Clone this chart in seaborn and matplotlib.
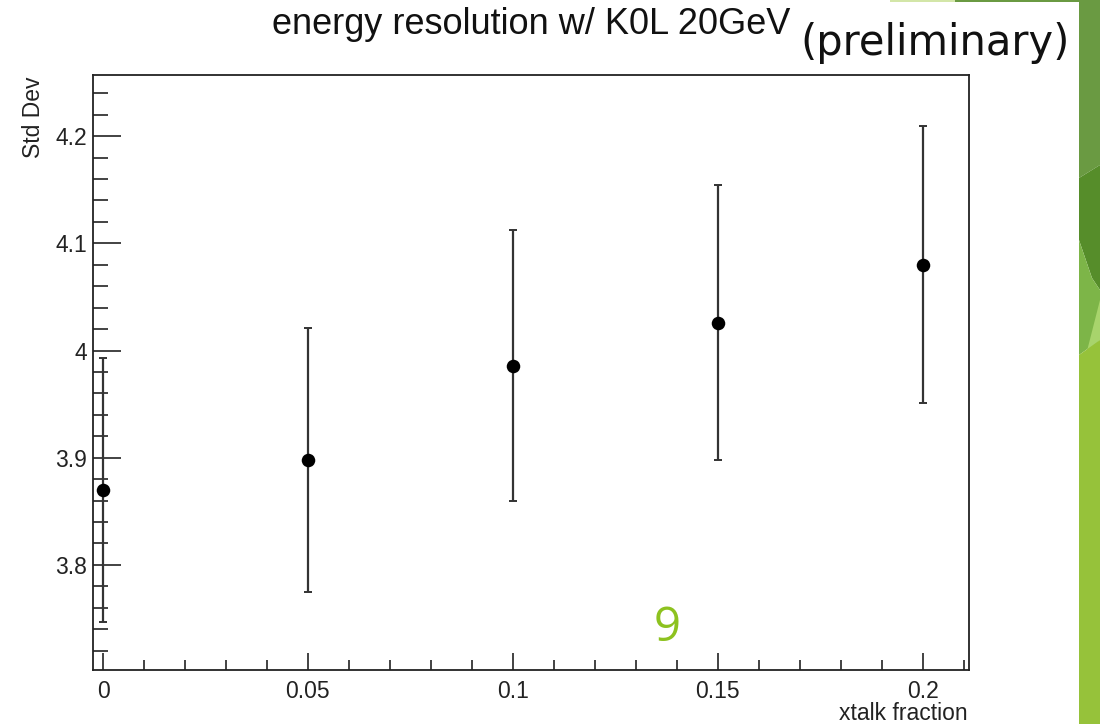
import numpy as np
import pandas as pd
import matplotlib
matplotlib.use("Agg")
import matplotlib.pyplot as plt
from matplotlib.patches import Polygon
from matplotlib.ticker import MultipleLocator, FuncFormatter
import seaborn as sns

# ---- data ----
xtalk_fraction = [0.0, 0.05, 0.10, 0.15, 0.20]
std_dev = [3.870, 3.898, 3.986, 4.026, 4.080]
std_dev_err = [0.123, 0.123, 0.126, 0.128, 0.129]

title = "energy resolution w/ K0L 20GeV"
x_label = "xtalk fraction"
y_label = "Std Dev"

sns.set_theme(style="ticks")
plt.rcParams['font.family'] = ['Liberation Sans', 'DejaVu Sans']

df = pd.DataFrame({"x": xtalk_fraction, "y": std_dev, "err": std_dev_err})

fig = plt.figure(figsize=(11, 7.24), dpi=100)
fig.patch.set_facecolor("white")

W, H = 1100, 724
def fx(px):
    return px / W
def fy(py):
    return 1 - py / H

ax = fig.add_axes([fx(93), fy(670), fx(969) - fx(93), fy(75) - fy(670)])

ax.errorbar(df["x"], df["y"], yerr=df["err"], fmt="none", ecolor="#333333",
            elinewidth=1.6, capsize=2.9, capthick=1.4, zorder=2)
sns.scatterplot(data=df, x="x", y="y", ax=ax, color="black", s=95,
                marker="o", edgecolor="black", linewidth=0, zorder=3)

ax.set_xlim(-0.00244, 0.2113)
ax.set_ylim(3.702, 4.257)

ax.xaxis.set_major_locator(MultipleLocator(0.05))
ax.xaxis.set_minor_locator(MultipleLocator(0.01))
ax.yaxis.set_major_locator(MultipleLocator(0.1))
ax.yaxis.set_minor_locator(MultipleLocator(0.02))

def fmt(v, pos):
    s = f"{v:.2f}".rstrip("0").rstrip(".")
    if s == "-0":
        s = "0"
    return s
ax.xaxis.set_major_formatter(FuncFormatter(fmt))
ax.yaxis.set_major_formatter(FuncFormatter(fmt))

ax.tick_params(axis="both", which="both", direction="in", width=1.2,
               labelsize=16.5, colors="#222222", top=False, right=False)
ax.tick_params(axis="y", which="major", length=20, pad=4)
ax.tick_params(axis="y", which="minor", length=10.5)
ax.tick_params(axis="x", which="major", length=12.5, pad=7)
ax.tick_params(axis="x", which="minor", length=7.2)
for sp in ax.spines.values():
    sp.set_linewidth(1.3)
    sp.set_color("#222222")
    sp.set_visible(True)

ax.set_xlabel("")
ax.set_ylabel("")
fig.text(fx(968), fy(713), x_label, ha="right", va="center", fontsize=16.5, color="#222222")
fig.text(fx(33), fy(77), y_label, ha="center", va="top", rotation=90, fontsize=16.5, color="#222222")

fig.text(fx(272), fy(34), title, ha="left", va="baseline", fontsize=26, color="#111111")
fig.text(fx(800), fy(55), "(preliminary)", ha="left", va="baseline", fontsize=30,
         family=["DejaVu Sans"], color="#111111")
fig.text(fx(667), fy(641), "9", ha="center", va="baseline", fontsize=34,
         family=["Open Sans", "DejaVu Sans"], color="#8dc21f")

# slide decoration on the right
def poly(pts, color):
    fig.patches.append(Polygon([(fx(a), fy(b)) for a, b in pts], closed=True,
                               transform=fig.transFigure, facecolor=color,
                               edgecolor="none", zorder=0))

poly([(1079, 0), (1100, 0), (1100, 165), (1079, 178)], "#6a9a42")
poly([(1079, 178), (1100, 165), (1100, 290), (1092, 278), (1079, 240)], "#568d2a")
poly([(1079, 240), (1092, 278), (1100, 290), (1100, 340), (1079, 355)], "#7db548")
poly([(1086, 355), (1100, 300), (1100, 340)], "#a8d46c")
poly([(1079, 355), (1100, 340), (1100, 724), (1079, 724)], "#96c23a")
poly([(890, 0), (955, 0), (955, 2), (890, 2)], "#d3e6a8")
poly([(955, 0), (1079, 0), (1079, 2), (955, 2)], "#6a9a42")

fig.savefig("out.png", dpi=100)
